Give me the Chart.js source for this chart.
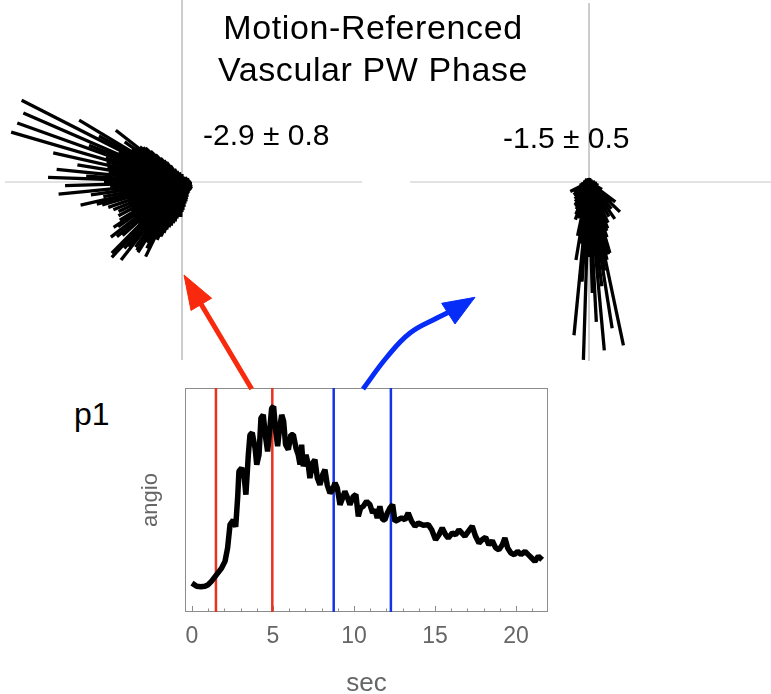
<!DOCTYPE html>
<html><head><meta charset="utf-8">
<script src="https://cdn.jsdelivr.net/npm/chart.js@4.4.1/dist/chart.umd.min.js"></script>
<style>
html,body{margin:0;padding:0;background:#fff;}
#wrap{position:relative;width:771px;height:694px;overflow:hidden;font-family:"Liberation Sans",Arial,Helvetica,sans-serif;}
canvas{position:absolute;display:block;}
.t{position:absolute;white-space:nowrap;color:#000;}
</style></head><body>
<div id="wrap">
  <canvas id="lp" width="362" height="364" style="left:2px;top:0px"></canvas>
  <canvas id="rp" width="362" height="364" style="left:409px;top:0px"></canvas>
  <canvas id="ts" width="633" height="314" style="left:138px;top:380px"></canvas>
  <div class="t" style="left:153px;top:6px;width:440px;text-align:center;font-size:34px;line-height:42.4px;letter-spacing:0.6px">Motion-Referenced<br>Vascular PW Phase</div>
  <div class="t" style="left:203px;top:119.6px;font-size:30px;line-height:30px">-2.9 ± 0.8</div>
  <div class="t" style="left:503px;top:122.6px;font-size:30px;line-height:30px">-1.5 ± 0.5</div>
  <div class="t" style="left:74px;top:398px;font-size:32px;line-height:32px">p1</div>
  <canvas id="ov" width="771" height="694" style="left:0;top:0;pointer-events:none"></canvas>
</div>
<script>
// ---------------- data ----------------
// left phase rose (angle in degrees, length)
const leftAngles  = [0,20,40,60,90,105,115,120,125,128,130,132,134,135.5,137,138.5,140,141,142,143.5,145,146,147,148,149,150,151,152,153,154,155,156.5,157.5,158.5,159.5,160.3,161.5,162.5,163.7,165,166,167.3,168,169,170.7,171.5,172.5,173.5,174.2,175.5,176.5,177.5,178,179.5,180.5,181.8,183,183.5,184.5,185.6,187,188,189,190.5,191.5,192.8,193.5,194.5,195.5,196,197.5,198.5,199,200.5,202,203.5,204.5,205,206,207,208,209,210,211.5,212.5,213.5,215,216.5,217.8,218.5,220,221,222,223,224,225.4,226,227,228,229,230.5,231,232,233.5,234.5,235.5,236.5,237,238,239,240,241,242,243,244,245,246.7,248,249,250.5,252,254,256,258,260,262,264,266,268,270,272,275,278,282,285,290,295,302,310,320,328,336,345,352];
const leftLengths = [9,8,7,6,8,10,12,15,20,25,28,32,38,44,50,52,55,54,84,58,70,57,60,58,120,58,95,58,180,57,70,173,56,100,56,175,56,80,178,78,55,132,55,76,106,55,74,55,126,56,96,55,134,55,78,117,55,72,55,124,55,92,55,80,54,104,54,88,55,83,55,56,78,56,74,56,57,70,57,57,72,58,58,73,58,82,78,59,90,60,85,60,80,60,60,100,60,103,60,88,84,60,99,60,80,61,82,61,83,62,70,62,75,62,83,61,63,59,58,54,50,47,45,42,40,37,35,35,35,30,28,25,22,20,18,16,14,13,12,12,12,11,10,10];
// right phase rose
const rightAngles  = [0,20,60,80,90,100,120,150,180,195,200,207,215,220,225,230,235,238.7,242,245,248,250,253,256,258,260.5,262,263,264.4,265,266,267,268.2,269,270,271.7,272.5,273,274,275.2,276,277,278,279,280,281,281.9,283,284,285,286.4,288,290,292,295,300,305,310,316,320,323,330,340,350];
const rightLengths = [6,4,3,4,4,4,4,5,6,8,10,21,18,20,20,22,24,27,28,30,35,40,38,37,55,79,62,61,154,65,100,70,178,72,75,111,72,140,70,169,70,105,68,148,90,65,167,80,60,75,74,58,52,50,45,40,45,35,43,30,33,15,10,8];

// angio time series (sec, angio)
const timeSec = [0,0.29,0.55,0.8,1.0,1.2,1.52,1.83,2.04,2.2,2.35,2.55,2.7,2.82,2.9,3.07,3.23,3.33,3.48,3.58,3.72,3.9,4.0,4.14,4.26,4.4,4.55,4.67,4.81,4.92,5.04,5.17,5.29,5.41,5.54,5.66,5.78,5.95,6.11,6.26,6.42,6.56,6.67,6.77,6.87,7.04,7.18,7.28,7.45,7.59,7.74,7.9,8.07,8.21,8.35,8.52,8.68,8.83,8.97,9.14,9.3,9.44,9.61,9.75,9.96,10.12,10.27,10.41,10.58,10.78,10.99,11.15,11.3,11.44,11.6,11.77,11.91,12.06,12.22,12.39,12.53,12.74,12.94,13.15,13.35,13.56,13.77,13.97,14.28,14.59,14.8,15.04,15.25,15.45,15.66,15.82,16.07,16.28,16.48,16.65,16.85,17.06,17.3,17.51,17.72,17.92,18.13,18.33,18.54,18.75,18.95,19.16,19.32,19.49,19.69,19.9,20.1,20.31,20.56,20.76,20.97,21.17,21.38,21.62];
const angio   = [12.9,11.5,11.3,11.5,12.2,13.7,16.7,19.6,22.6,28.6,39,41,38,51,62.8,64.3,59.8,52.4,70.2,79,80,73,65.8,70.2,86.6,88,77.7,71.7,82.1,91,91.8,80.7,74,82.1,88,85.1,74.7,72.5,79.1,79.1,73.2,70.2,65.8,74.7,65,70.2,65.8,59.8,66.5,68,59.8,56.8,61.3,63.5,56.8,53.1,54.6,57.6,55.4,47.9,50.9,53.9,50.9,47.9,51.6,52.4,42.7,46.4,47.2,49.4,47.9,44.2,45.7,42,47.2,41.2,41.2,44.2,46.4,47.9,40.5,41.2,42,41.2,44.2,40.5,38.3,39.7,38.7,39,36.7,32.3,34.5,37.5,34.5,33,35.3,34.5,36.7,35.3,33.8,36,38.3,33.8,30.8,32.3,33.3,30,31.8,28.6,27.8,30,33,28.6,26.3,25.6,27.1,25.6,27.1,25.6,24.1,22.6,24.9,23.3];
const windowTimes  = [1.48, 4.96, 8.75, 12.28];
const windowColors = ['#e8321e','#e8321e','#1432e6','#1432e6'];
const xTickValues  = [0,5,10,15,20];

// annotation arrows (page pixel coordinates)
const redArrowShaft  = [[251.7,389],[201,304]];
const redArrowHead   = [[184,275],[211.6,298.2],[191,310.4],[184,275]];
const blueArrowShaft = [[363,389],[387,357],[410,333],[437,318],[449,312]];
const blueArrowHead  = [[475,297.3],[441.7,303.3],[455,324],[475,297.3]];

// ---------------- charts ----------------
const baseOpts = () => ({
  responsive:false, animation:false, events:[],
  layout:{padding:0},
  plugins:{legend:{display:false}, tooltip:{enabled:false}, title:{display:false}}
});

function rose(id, angles, lengths, xr, yr, hLine, vLine){
  const ds = [];
  ds.push({data:[{x:hLine[0],y:0},{x:hLine[1],y:0}], showLine:true, borderColor:'#c6c6c6', borderWidth:1, pointRadius:0, order:10});
  ds.push({data:[{x:0,y:vLine[0]},{x:0,y:vLine[1]}], showLine:true, borderColor:'#c6c6c6', borderWidth:1, pointRadius:0, order:10});
  angles.forEach((a,i)=>{
    const t = a*Math.PI/180, r = lengths[i];
    ds.push({data:[{x:0,y:0},{x:r*Math.cos(t),y:r*Math.sin(t)}], showLine:true, borderColor:'#000', borderWidth:3.3, borderCapStyle:'butt', pointRadius:0, order:0});
  });
  const o = baseOpts();
  o.scales = {x:{type:'linear',display:false,min:xr[0],max:xr[1]}, y:{type:'linear',display:false,min:yr[0],max:yr[1]}};
  new Chart(document.getElementById(id), {type:'scatter', data:{datasets:ds}, options:o});
}
rose('lp', leftAngles, leftLengths, [-180,182], [-182,182], [-177,180], [182,-178]);
rose('rp', rightAngles, rightLengths, [-180,182], [-182,182], [-179,182], [179,-179]);

// time series
const frameTicks = {
  id:'frameTicks',
  beforeDatasetsDraw(chart){
    const {ctx, chartArea:a} = chart; const xs = chart.scales.x;
    ctx.save(); ctx.strokeStyle='#8c8c8c'; ctx.lineWidth=1;
    ctx.strokeRect(a.left+0.5, a.top+0.5, a.right-a.left-1, a.bottom-a.top-1);
    for(let v=0; v<=21; v++){
      const px = Math.round(xs.getPixelForValue(v))+0.5;
      const len = v%5===0 ? 6 : 3.5;
      ctx.beginPath(); ctx.moveTo(px, a.bottom); ctx.lineTo(px, a.bottom-len); ctx.stroke();
    }
    ctx.restore();
  }
};
const tsDatasets = [{data:timeSec.map((t,i)=>({x:t,y:angio[i]})), showLine:true, borderColor:'#000', borderWidth:5.5, borderJoinStyle:'bevel', pointRadius:0, order:0}];
windowTimes.forEach((t,i)=>{
  tsDatasets.push({data:[{x:t,y:0},{x:t,y:100}], showLine:true, borderColor:windowColors[i], borderWidth:2.5, pointRadius:0, order:5});
});
const tsOpts = baseOpts();
tsOpts.layout = {padding:{top:8,right:223,left:0,bottom:0}};
tsOpts.scales = {
  x:{type:'linear', min:-0.43, max:21.98,
     afterBuildTicks:s=>{s.ticks = xTickValues.map(v=>({value:v}));},
     afterFit:s=>{s.height=82;},
     grid:{display:false, drawTicks:false}, border:{display:false},
     ticks:{color:'#666', font:{family:'"Liberation Sans", Arial, sans-serif', size:23, lineHeight:1.2}, padding:10.5, maxRotation:0, autoSkip:false},
     title:{display:true, text:'sec', color:'#666', font:{family:'"Liberation Sans", Arial, sans-serif', size:26, lineHeight:0.8}, padding:0}},
  y:{type:'linear', min:0, max:100,
     afterFit:s=>{s.width=47;},
     grid:{display:false, drawTicks:false}, border:{display:false},
     ticks:{display:false},
     title:{display:true, text:'angio', color:'#666', font:{family:'"Liberation Sans", Arial, sans-serif', size:22, lineHeight:1.2}, padding:0}}
};
new Chart(document.getElementById('ts'), {type:'scatter', data:{datasets:tsDatasets}, options:tsOpts, plugins:[frameTicks]});

// overlay arrows
const P = arr => arr.map(p=>({x:p[0],y:p[1]}));
const ovOpts = baseOpts();
ovOpts.scales = {x:{type:'linear',display:false,min:0,max:771}, y:{type:'linear',display:false,min:0,max:694,reverse:true}};
new Chart(document.getElementById('ov'), {type:'scatter', data:{datasets:[
  {data:P(redArrowShaft), showLine:true, borderColor:'#f8290c', borderWidth:5, borderCapStyle:'butt', pointRadius:0},
  {data:P(redArrowHead), showLine:true, borderColor:'#f8290c', backgroundColor:'#f8290c', borderWidth:1, fill:'shape', pointRadius:0},
  {data:P(blueArrowShaft), showLine:true, borderColor:'#062cf8', borderWidth:5, borderCapStyle:'butt', tension:0.4, pointRadius:0},
  {data:P(blueArrowHead), showLine:true, borderColor:'#062cf8', backgroundColor:'#062cf8', borderWidth:1, fill:'shape', pointRadius:0}
]}, options:ovOpts});
</script>
</body></html>
